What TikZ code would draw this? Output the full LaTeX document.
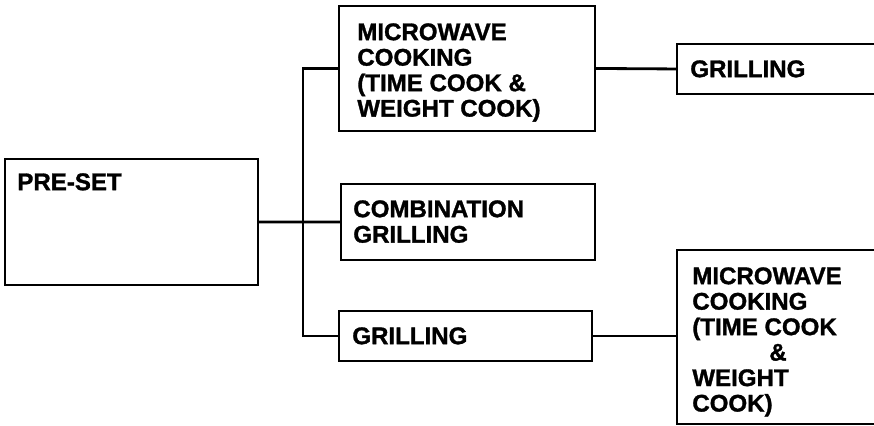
\documentclass[tikz,border=0pt]{standalone}
\usepackage{fontspec}
\setmainfont{Liberation Sans}
\newfontfamily\heavyfont[FakeBold=1.3]{Liberation Sans Bold}
\usepackage{tikz}

\begin{document}
\begin{tikzpicture}[line cap=round,
  box/.style={draw,line width=1.1pt,inner sep=0pt,anchor=north west},
  lbl/.style={anchor=north west,align=left,inner sep=0pt,font=\heavyfont\fontsize{13.7}{14.5}\selectfont},
  wire/.style={line width=1.6pt}]
\useasboundingbox (0,0) rectangle (17.48,-8.52);
\clip (0,0) rectangle (17.48,-8.52);
% boxes
\node[box,minimum width=5.06cm,minimum height=2.52cm] (preset) at (0.08,-3.16) {};
\node[box,minimum width=5.12cm,minimum height=2.50cm] (mw1) at (6.76,-0.10) {};
\node[box,minimum width=4.40cm,minimum height=1.00cm] (grill1) at (13.52,-0.86) {};
\node[box,minimum width=5.08cm,minimum height=1.52cm] (combo) at (6.80,-3.66) {};
\node[box,minimum width=5.06cm,minimum height=1.00cm] (grill2) at (6.76,-6.20) {};
\node[box,minimum width=4.40cm,minimum height=3.48cm] (mw2) at (13.52,-4.98) {};
% labels
\node[lbl] (presetT) at ([shift={(0.26,-0.30)}]preset.north west) {PRE-SET};
\node[lbl] (mw1T) at ([shift={(0.38,-0.36)}]mw1.north west) {MICROWAVE\\COOKING\\(TIME COOK \&\\WEIGHT COOK)};
\node[lbl] (grill1T) at ([shift={(0.28,-0.34)}]grill1.north west) {GRILLING};
\node[lbl] (comboT) at ([shift={(0.26,-0.34)}]combo.north west) {COMBINATION\\GRILLING};
\node[lbl] (grill2T) at ([shift={(0.28,-0.34)}]grill2.north west) {GRILLING};
\node[lbl] (mw2T) at ([shift={(0.32,-0.36)}]mw2.north west) {MICROWAVE\\COOKING\\(TIME COOK\\\hspace*{1.54cm}\&\\WEIGHT\\COOK)};
% connectors
\coordinate (bus) at (6.06,0);
\draw[wire] (preset.east) -- (combo.west);
\draw[wire] (mw1.west) -- (mw1.west -| bus) |- (grill2.west);
\draw[wire] (mw1.east) -- (grill1.west);
\draw[wire] (grill2.east) -- (grill2.east -| mw2.west);
\end{tikzpicture}
\end{document}
